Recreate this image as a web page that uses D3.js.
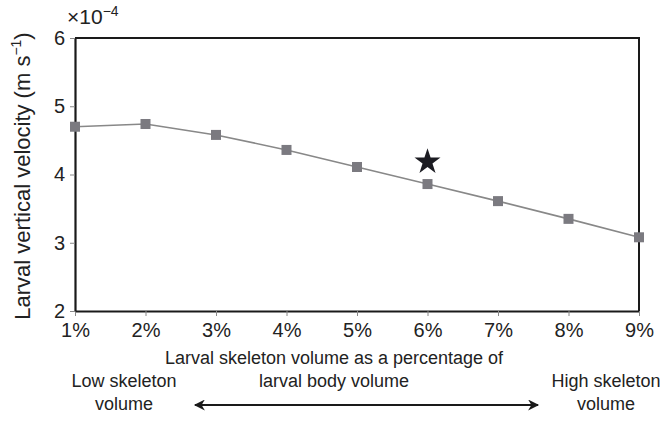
<!DOCTYPE html>
<html>
<head>
<meta charset="utf-8">
<script src="https://cdn.jsdelivr.net/npm/d3@7"></script>
<style>
  body { margin: 0; background: #fff; }
  svg { display: block; font-family: "Liberation Sans", Arial, sans-serif; }
</style>
</head>
<body>
<svg id="chart" width="667" height="422"></svg>
<script>
const percents = [1, 2, 3, 4, 5, 6, 7, 8, 9];
const velocity = [4.70, 4.74, 4.58, 4.36, 4.11, 3.86, 3.61, 3.35, 3.08];
const starPoint = { x: 6, y: 4.20 };
const yTicks = [2, 3, 4, 5, 6];

const margin = { top: 38, right: 28, bottom: 111, left: 75 };
const width = 667 - margin.left - margin.right;
const height = 422 - margin.top - margin.bottom;

const svg = d3.select("#chart");
const g = svg.append("g").attr("transform", `translate(${margin.left},${margin.top})`);

const x = d3.scaleLinear().domain([1, 9]).range([0, width]);
const y = d3.scaleLinear().domain([2, 6]).range([height, 0]);

// frame (top + right)
g.append("path")
  .attr("d", `M0,0H${width}V${height}`)
  .attr("fill", "none")
  .attr("stroke", "#1a1a1a")
  .attr("stroke-width", 2);

const xAxis = g.append("g")
  .attr("transform", `translate(0,${height})`)
  .call(d3.axisBottom(x).tickValues(percents).tickFormat((d) => d + "%").tickSize(5).tickSizeOuter(0));

const yAxis = g.append("g")
  .call(d3.axisLeft(y).tickValues(yTicks).tickFormat(d3.format("d")).tickSize(5).tickSizeOuter(0));

[xAxis, yAxis].forEach((a) => {
  a.attr("font-size", null).attr("font-family", null);
  a.select(".domain").attr("stroke", "#1a1a1a").attr("stroke-width", 2.2);
  a.selectAll(".tick line").attr("stroke", "#888").attr("stroke-width", 1);
  a.selectAll(".tick text")
    .attr("fill", "#222")
    .style("font-size", "20px");
});
xAxis.selectAll(".tick text").attr("dy", "0.9em");
yAxis.selectAll(".tick text").attr("x", -10);

// exponent label
const expo = svg.append("text")
  .attr("x", 67)
  .attr("y", 24)
  .attr("fill", "#222")
  .style("font-size", "21px");
expo.append("tspan").text("×10");
expo.append("tspan").attr("dy", -8).style("font-size", "14px").text("−4");

// line
const line = d3.line()
  .x((d, i) => x(percents[i]))
  .y((d) => y(d));

g.append("path")
  .datum(velocity)
  .attr("d", line)
  .attr("fill", "none")
  .attr("stroke", "#888")
  .attr("stroke-width", 1.6);

g.selectAll(".pt")
  .data(velocity)
  .enter()
  .append("rect")
  .attr("class", "pt")
  .attr("x", (d, i) => x(percents[i]) - 5)
  .attr("y", (d) => y(d) - 5)
  .attr("width", 10)
  .attr("height", 10)
  .attr("fill", "#7b7a80");

g.append("path")
  .attr("d", d3.symbol().type(d3.symbolStar).size(210)())
  .attr("transform", `translate(${x(starPoint.x)},${y(starPoint.y) + 1})`)
  .attr("fill", "#1c1c22");

// y title
svg.append("text")
  .attr("transform", "translate(30,176) rotate(-90)")
  .attr("text-anchor", "middle")
  .attr("fill", "#222")
  .style("font-size", "22px")
  .html('Larval vertical velocity (m s<tspan dy="-9" font-size="14px">−1</tspan><tspan dy="9">)</tspan>');

// x title
const xt = svg.append("text")
  .attr("text-anchor", "middle")
  .attr("fill", "#222")
  .style("font-size", "18px");
xt.append("tspan").attr("x", 334).attr("y", 364).text("Larval skeleton volume as a percentage of");
xt.append("tspan").attr("x", 334).attr("y", 387).text("larval body volume");

const low = svg.append("text").attr("text-anchor", "middle").attr("fill", "#222").style("font-size", "18px");
low.append("tspan").attr("x", 124).attr("y", 387).text("Low skeleton");
low.append("tspan").attr("x", 124).attr("y", 410).text("volume");

const high = svg.append("text").attr("text-anchor", "middle").attr("fill", "#222").style("font-size", "18px");
high.append("tspan").attr("x", 606).attr("y", 387).text("High skeleton");
high.append("tspan").attr("x", 606).attr("y", 410).text("volume");

// double arrow
const defs = svg.append("defs");
defs.append("marker")
  .attr("id", "ah")
  .attr("viewBox", "0 0 10 10")
  .attr("refX", 9)
  .attr("refY", 5)
  .attr("markerWidth", 12)
  .attr("markerHeight", 11)
  .attr("markerUnits", "userSpaceOnUse")
  .attr("orient", "auto-start-reverse")
  .append("path")
  .attr("d", "M0,0 L10,5 L0,10 L3,5 Z")
  .attr("fill", "#1a1a1a");

svg.append("line")
  .attr("x1", 195).attr("x2", 538)
  .attr("y1", 405).attr("y2", 405)
  .attr("stroke", "#1a1a1a")
  .attr("stroke-width", 1.8)
  .attr("marker-start", "url(#ah)")
  .attr("marker-end", "url(#ah)");
</script>
</body>
</html>
